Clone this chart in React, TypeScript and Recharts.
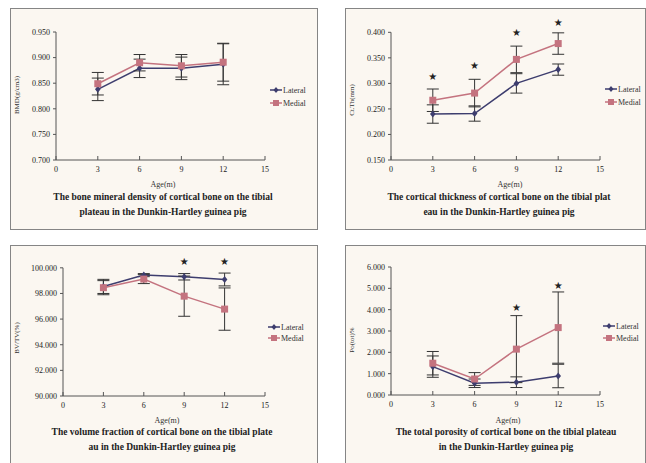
import { ComposedChart, Line, Scatter, XAxis, YAxis, ErrorBar, ReferenceLine } from 'recharts';

// values (ages in months)
const ages = [3, 6, 9, 12];
const xTicks = [0, 3, 6, 9, 12, 15];

const bmdLateral = [0.838, 0.879, 0.879, 0.887];
const bmdLateralErr = [0.022, 0.018, 0.022, 0.04];
const bmdMedial = [0.849, 0.89, 0.884, 0.891];
const bmdMedialErr = [0.022, 0.016, 0.022, 0.037];
const bmdTicks = [0.7, 0.75, 0.8, 0.85, 0.9, 0.95];

const ctLateral = [0.24, 0.241, 0.3, 0.327];
const ctLateralErr = [0.018, 0.015, 0.019, 0.011];
const ctMedial = [0.267, 0.281, 0.347, 0.378];
const ctMedialErr = [0.022, 0.027, 0.026, 0.021];
const ctStarAges = [3, 6, 9, 12];
const ctStars = [0.313, 0.335, 0.399, 0.42];
const ctTicks = [0.15, 0.2, 0.25, 0.3, 0.35, 0.4];

const bvLateral = [98.55, 99.43, 99.3, 99.09];
const bvLateralErr = [0.55, 0.12, 0.25, 0.5];
const bvMedial = [98.45, 99.12, 97.79, 96.78];
const bvMedialErr = [0.55, 0.35, 1.57, 1.65];
const bvStarAges = [9, 12];
const bvStars = [100.52, 100.52];
const bvTicks = [90, 92, 94, 96, 98, 100];

const poLateral = [1.33, 0.55, 0.6, 0.89];
const poLateralErr = [0.5, 0.2, 0.25, 0.55];
const poMedial = [1.49, 0.75, 2.15, 3.16];
const poMedialErr = [0.55, 0.3, 1.57, 1.67];
const poStarAges = [9, 12];
const poStars = [4.11, 5.14];
const poTicks = [0, 1, 2, 3, 4, 5, 6];

const LATERAL = '#3d3d6e';
const MEDIAL = '#c4737f';
const SERIF = '"Liberation Serif", "Times New Roman", serif';

const rows = (lat: number[], latErr: number[], med: number[], medErr: number[]) =>
  ages.map((age, i) => ({ age, lateral: lat[i], lateralErr: latErr[i], medial: med[i], medialErr: medErr[i] }));

const starRows = (xs: number[], ys: number[]) => xs.map((age, i) => ({ age, star: ys[i] }));

const Diamond = (props: any) => {
  const { cx, cy } = props;
  if (cx == null || cy == null) return null;
  return <path d={`M${cx},${cy - 3.5}L${cx + 2.8},${cy}L${cx},${cy + 3.5}L${cx - 2.8},${cy}Z`} fill={LATERAL} />;
};

const Square = (props: any) => {
  const { cx, cy } = props;
  if (cx == null || cy == null) return null;
  return <rect x={cx - 3.5} y={cy - 3.5} width={7} height={7} fill={MEDIAL} />;
};

const Star = (props: any) => {
  const { cx, cy } = props;
  if (cx == null || cy == null) return null;
  return (
    <text x={cx} y={cy} textAnchor="middle" dominantBaseline="central" fontSize={10} fill="#222" fontFamily="DejaVu Sans">
      ★
    </text>
  );
};

const panels = [
  {
    id: 'bmd',
    qx: 0, qy: 0, qh: 232,
    box: { left: 10, top: 8, width: 308, height: 222 },
    plotLeft: 56, right: 58, top: 32, bottom: 72,
    domain: [0.7, 0.95], ticks: bmdTicks, digits: 3,
    data: rows(bmdLateral, bmdLateralErr, bmdMedial, bmdMedialErr),
    stars: [] as { age: number; star: number }[],
    yLabel: 'BMD(g/cm3)', yLabelAt: [17, 95],
    legendAt: [270, 90, 103],
    ageAt: [163, 184],
    title: ['The bone mineral density of cortical bone on the tibial', 'plateau in the Dunkin-Hartley guinea pig'],
    titleAt: [163, 197],
  },
  {
    id: 'ct',
    qx: 323, qy: 0, qh: 232,
    box: { left: 345, top: 8, width: 301, height: 222 },
    plotLeft: 68, right: 46, top: 17, bottom: 72,
    domain: [0.15, 0.43], ticks: ctTicks, digits: 3,
    data: rows(ctLateral, ctLateralErr, ctMedial, ctMedialErr),
    stars: starRows(ctStarAges, ctStars),
    yLabel: 'Ct.Th(mm)', yLabelAt: [29, 100],
    legendAt: [282, 89, 102],
    ageAt: [187, 184],
    title: ['The cortical thickness of cortical bone on the tibial plat', 'eau in the Dunkin-Hartley guinea pig'],
    titleAt: [176, 197],
  },
  {
    id: 'bv',
    qx: 0, qy: 232, qh: 231,
    box: { left: 10, top: 245, width: 308, height: 230 },
    plotLeft: 63, right: 58, top: 23, bottom: 67,
    domain: [90, 101], ticks: bvTicks, digits: 3,
    data: rows(bvLateral, bvLateralErr, bvMedial, bvMedialErr),
    stars: starRows(bvStarAges, bvStars),
    yLabel: 'BV/TV(%)', yLabelAt: [17, 106],
    legendAt: [268, 95, 106],
    ageAt: [167, 188],
    title: ['The volume fraction of cortical bone on the tibial plate', 'au in the Dunkin-Hartley guinea pig'],
    titleAt: [162, 200],
  },
  {
    id: 'po',
    qx: 323, qy: 232, qh: 231,
    box: { left: 345, top: 245, width: 301, height: 230 },
    plotLeft: 68, right: 46, top: 35, bottom: 68,
    domain: [0, 6], ticks: poTicks, digits: 3,
    data: rows(poLateral, poLateralErr, poMedial, poMedialErr),
    stars: starRows(poStarAges, poStars),
    yLabel: 'Po(tot)%', yLabelAt: [29, 108],
    legendAt: [280, 94, 106],
    ageAt: [185, 188],
    title: ['The total porosity of cortical bone on the tibial plateau', 'in the Dunkin-Hartley guinea pig'],
    titleAt: [183, 200],
  },
];

const LegendRow = ({ x, y, color, label, marker }: any) => (
  <g>
    <line x1={x} y1={y} x2={x + 12} y2={y} stroke={color} strokeWidth={1.5} />
    {marker === 'diamond' ? (
      <path d={`M${x + 6},${y - 3}L${x + 8.5},${y}L${x + 6},${y + 3}L${x + 3.5},${y}Z`} fill={color} />
    ) : (
      <rect x={x + 3} y={y - 3} width={6} height={6} fill={color} />
    )}
    <text x={x + 13} y={y} dominantBaseline="central" fontSize={8} fill="#333" fontFamily={SERIF}>
      {label}
    </text>
  </g>
);

const Panel = ({ p }: { p: (typeof panels)[number] }) => {
  const [yMin] = p.domain;
  const yTop = p.ticks[p.ticks.length - 1];
  return (
    <div style={{ position: 'absolute', left: p.qx, top: p.qy, width: 323, height: p.qh }}>
      <ComposedChart
        width={323}
        height={p.qh}
        data={p.data}
        margin={{ top: p.top, right: p.right, bottom: p.bottom - 20, left: 0 }}
      >
        <XAxis
          type="number"
          dataKey="age"
          domain={[0, 15]}
          ticks={xTicks}
          height={20}
          axisLine={{ stroke: '#555', strokeWidth: 1 }}
          tickLine={{ stroke: '#555' }}
          tickSize={-4}
          tickMargin={10}
          tick={{ fontSize: 8, fill: '#222', fontFamily: SERIF }}
        />
        <YAxis
          type="number"
          domain={p.domain}
          ticks={p.ticks}
          width={p.plotLeft}
          axisLine={false}
          tickLine={{ stroke: '#555' }}
          tickSize={3}
          tickMargin={3}
          tickFormatter={(v: number) => v.toFixed(p.digits)}
          tick={{ fontSize: 8, fill: '#222', fontFamily: SERIF }}
        />
        <ReferenceLine
          segment={[{ x: 0, y: yMin }, { x: 0, y: yTop }]}
          stroke="#555"
          strokeWidth={1}
          ifOverflow="visible"
        />
        <Line
          dataKey="lateral"
          stroke={LATERAL}
          strokeWidth={1.5}
          dot={<Diamond />}
          activeDot={false}
          isAnimationActive={false}
        >
          <ErrorBar dataKey="lateralErr" width={6} stroke="#333" strokeWidth={1} isAnimationActive={false} />
        </Line>
        <Line
          dataKey="medial"
          stroke={MEDIAL}
          strokeWidth={1.5}
          dot={<Square />}
          activeDot={false}
          isAnimationActive={false}
        >
          <ErrorBar dataKey="medialErr" width={6} stroke="#333" strokeWidth={1} isAnimationActive={false} />
        </Line>
        {p.stars.length > 0 && (
          <Scatter data={p.stars} dataKey="star" shape={<Star />} isAnimationActive={false} />
        )}
      </ComposedChart>
      <svg width={323} height={p.qh} style={{ position: 'absolute', left: 0, top: 0, pointerEvents: 'none' }}>
        <text
          x={p.yLabelAt[0]}
          y={p.yLabelAt[1]}
          transform={`rotate(-90 ${p.yLabelAt[0]} ${p.yLabelAt[1]})`}
          textAnchor="middle"
          dominantBaseline="central"
          fontSize={7}
          fill="#333"
          fontFamily={SERIF}
        >
          {p.yLabel}
        </text>
        <LegendRow x={p.legendAt[0]} y={p.legendAt[1]} color={LATERAL} label="Lateral" marker="diamond" />
        <LegendRow x={p.legendAt[0]} y={p.legendAt[2]} color={MEDIAL} label="Medial" marker="square" />
        <text x={p.ageAt[0]} y={p.ageAt[1]} textAnchor="middle" dominantBaseline="central" fontSize={8} fill="#333" fontFamily={SERIF}>
          Age(m)
        </text>
        {p.title.map((line, i) => (
          <text
            key={i}
            x={p.titleAt[0]}
            y={p.titleAt[1] + i * 15}
            textAnchor="middle"
            dominantBaseline="central"
            fontSize={9.5}
            fontWeight="bold"
            fill="#222"
            fontFamily={SERIF}
          >
            {line}
          </text>
        ))}
      </svg>
    </div>
  );
}

export default function App() {
  return (
    <div
      style={{
        position: 'absolute',
        left: 0,
        top: 0,
        width: 646,
        height: 463,
        overflow: 'hidden',
        background: '#fff',
      }}
    >
      {panels.map((p) => (
        <div
          key={p.id + '-box'}
          style={{
            position: 'absolute',
            ...p.box,
            boxSizing: 'border-box',
            border: '1.5px solid #858585',
            background: '#fbf7f1',
          }}
        />
      ))}
      {panels.map((p) => (
        <Panel key={p.id} p={p} />
      ))}
    </div>
  );
}
